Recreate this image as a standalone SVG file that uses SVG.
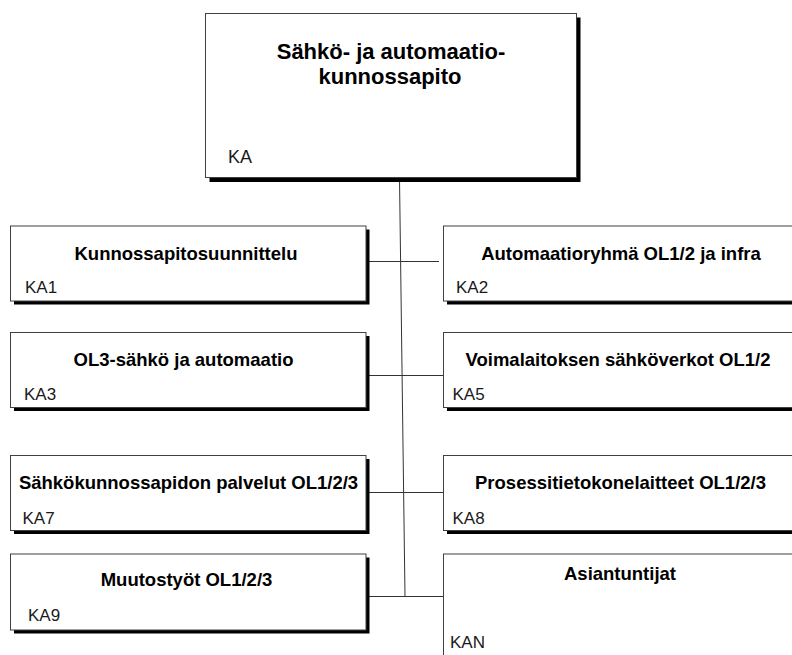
<svg xmlns="http://www.w3.org/2000/svg" width="792" height="655" viewBox="0 0 792 655">
<style>
.box{fill:#fff;stroke:#404040;stroke-width:1}
.sh{fill:#000}
.t{font-family:"Liberation Sans",Arial,sans-serif;font-weight:bold;font-size:18.5px;fill:#000;text-anchor:middle}
.tt{font-family:"Liberation Sans",Arial,sans-serif;font-weight:bold;font-size:22px;fill:#000;text-anchor:middle}
.c{font-family:"Liberation Sans",Arial,sans-serif;font-size:17px;fill:#1a1a1a}
.cl{fill:none;stroke:#333;stroke-width:1}
</style>
<rect width="792" height="655" fill="#fff"/>
<g id="connectors">
<line class="cl" x1="399.5" y1="178" x2="405" y2="597"/>
<line class="cl" x1="363" y1="261.5" x2="439" y2="261.5"/>
<line class="cl" x1="369" y1="375.5" x2="443.5" y2="375.5"/>
<line class="cl" x1="363" y1="492.5" x2="443.5" y2="492.5"/>
<line class="cl" x1="369" y1="596.5" x2="443.5" y2="596.5"/>
</g>
<g id="KA">
<rect class="sh" x="209.5" y="17.5" width="371" height="164.5"/>
<rect class="box" x="205.5" y="13.5" width="371" height="164"/>
<text class="tt" x="391" y="59">Sähkö- ja automaatio-</text>
<text class="tt" x="390" y="83.5">kunnossapito</text>
<text class="c" x="228" y="163" style="font-size:18px">KA</text>
</g>
<g id="KA1">
<rect class="sh" x="14" y="229.5" width="355.5" height="75"/>
<rect class="box" x="10.5" y="226" width="355.5" height="75"/>
<text class="t" x="186" y="259.5">Kunnossapitosuunnittelu</text>
<text class="c" x="25" y="293">KA1</text>
</g>
<g id="KA2">
<rect class="sh" x="447" y="229.5" width="356" height="75"/>
<rect class="box" x="443.5" y="226" width="356" height="75"/>
<text class="t" x="621" y="259.5">Automaatioryhmä OL1/2 ja infra</text>
<text class="c" x="456" y="293">KA2</text>
</g>
<g id="KA3">
<rect class="sh" x="14" y="336" width="355.5" height="75"/>
<rect class="box" x="10.5" y="332.5" width="355.5" height="75"/>
<text class="t" x="183.5" y="366">OL3-sähkö ja automaatio</text>
<text class="c" x="24" y="400">KA3</text>
</g>
<g id="KA5">
<rect class="sh" x="447" y="336" width="356" height="75"/>
<rect class="box" x="443.5" y="332.5" width="356" height="75"/>
<text class="t" x="618" y="366">Voimalaitoksen sähköverkot OL1/2</text>
<text class="c" x="452.5" y="400">KA5</text>
</g>
<g id="KA7">
<rect class="sh" x="14" y="459" width="355.5" height="75"/>
<rect class="box" x="10.5" y="455.5" width="355.5" height="75"/>
<text class="t" x="188.5" y="488.5">Sähkökunnossapidon palvelut OL1/2/3</text>
<text class="c" x="22.5" y="523.5">KA7</text>
</g>
<g id="KA8">
<rect class="sh" x="447" y="459" width="356" height="75"/>
<rect class="box" x="443.5" y="455.5" width="356" height="75"/>
<text class="t" x="620.5" y="488.5">Prosessitietokonelaitteet OL1/2/3</text>
<text class="c" x="452.5" y="523.5">KA8</text>
</g>
<g id="KA9">
<rect class="sh" x="14" y="557.5" width="355.5" height="76"/>
<rect class="box" x="10.5" y="554" width="355.5" height="76"/>
<text class="t" x="186.5" y="586">Muutostyöt OL1/2/3</text>
<text class="c" x="28" y="620.5">KA9</text>
</g>
<g id="KAN">
<rect class="sh" x="447" y="557.5" width="356" height="110"/>
<rect class="box" x="443.5" y="554" width="356" height="110"/>
<text class="t" x="620" y="579.5">Asiantuntijat</text>
<text class="c" x="450" y="647.5">KAN</text>
</g>
</svg>
